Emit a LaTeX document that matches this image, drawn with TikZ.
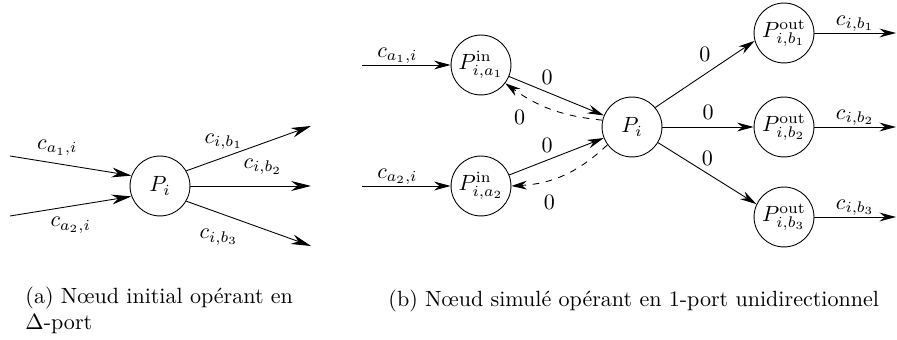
\documentclass[tikz,border=0pt]{standalone}
\usepackage{tikz}
\usetikzlibrary{arrows.meta,positioning}

\begin{document}
\begin{tikzpicture}[x=0.454pt,y=0.454pt,
  proc/.style={draw,circle,minimum size=27.2pt,inner sep=0pt},
  fleche/.style={-{Stealth[length=7.5pt,width=4pt]}},
  grande/.style={-{Stealth[length=9pt,width=4.5pt]}},
  retour/.style={-{Stealth[length=7pt,width=4pt]},dashed},
  canal/.style={above,inner sep=0.5pt},
  legende/.style={anchor=base west,align=left,inner sep=0pt}
]
\useasboundingbox (0,0) rectangle (897,340);

% (a) noeud initial, Delta-port
\node[proc] (pa) at (160,154) {$P_i$};
\coordinate (ea1) at (10,184);
\coordinate (ea2) at (10,124);
\coordinate (sa1) at (311,214);
\coordinate (sa2) at (311,154);
\coordinate (sa3) at (311,94);

\draw[grande] (ea1) -- node[above,pos=0.39] {$c_{a_1,i}$} (pa.160);
\draw[grande] (ea2) -- node[below=1.5pt,pos=0.5] {$c_{a_2,i}$} (pa.200);
\draw[grande] (pa.30) -- node[above,pos=0.3] {$c_{i,b_1}$} (sa1);
\draw[grande] (pa.0) -- node[above=1.5pt,pos=0.6] {$c_{i,b_2}$} (sa2);
\draw[grande] (pa.-30) -- node[below=4pt,pos=0.26] {$c_{i,b_3}$} (sa3);

% (b) noeud simule, 1-port
\node[proc] (pi) at (632,213) {$P_i$};
\node[proc] (pin1) at (481,275) {$P^{\mathrm{in}}_{i,a_1}$};
\node[proc] (pin2) at (481,154) {$P^{\mathrm{in}}_{i,a_2}$};
\node[proc] (pout1) at (784,307) {$P^{\mathrm{out}}_{i,b_1}$};
\node[proc] (pout2) at (784,213) {$P^{\mathrm{out}}_{i,b_2}$};
\node[proc] (pout3) at (784,123) {$P^{\mathrm{out}}_{i,b_3}$};

\coordinate (ein1) at (362,275);
\coordinate (ein2) at (362,154);
\coordinate (sout1) at (896,307);
\coordinate (sout2) at (896,213);
\coordinate (sout3) at (896,123);

% canaux d'entree
\draw[fleche] (ein1) -- node[canal,pos=0.4] {$c_{a_1,i}$} (pin1);
\draw[fleche] (ein2) -- node[canal,pos=0.4] {$c_{a_2,i}$} (pin2);
\draw[fleche] (pin1) -- node[above,pos=0.4] {$0$} (pi);
\draw[fleche] (pin2) -- node[above,pos=0.4] {$0$} (pi);
\draw[retour] (pi.167) to[bend left=15] node[below=4.5pt,pos=0.85] {$0$} (pin1.-37);
\draw[retour] (pi.216) to[bend left=20] node[below=3.5pt,pos=0.65] {$0$} (pin2.0);

% canaux de sortie
\draw[fleche] (pi.40) -- node[above=2pt,pos=0.5] {$0$} (pout1.195);
\draw[fleche] (pi) -- node[above,pos=0.5] {$0$} (pout2);
\draw[fleche] (pi.-31) -- node[above,pos=0.5] {$0$} (pout3.155);
\draw[fleche] (pout1) -- node[canal] {$c_{i,b_1}$} (sout1);
\draw[fleche] (pout2) -- node[canal] {$c_{i,b_2}$} (sout2);
\draw[fleche] (pout3) -- node[canal] {$c_{i,b_3}$} (sout3);

% legendes
\node[legende] (lega) at (25,10) {(a) Nœud initial opérant en\\$\Delta$-port};
\node[legende] (legb) at (388,33) {(b) Nœud simulé opérant en 1-port unidirectionnel};
\end{tikzpicture}
\end{document}
